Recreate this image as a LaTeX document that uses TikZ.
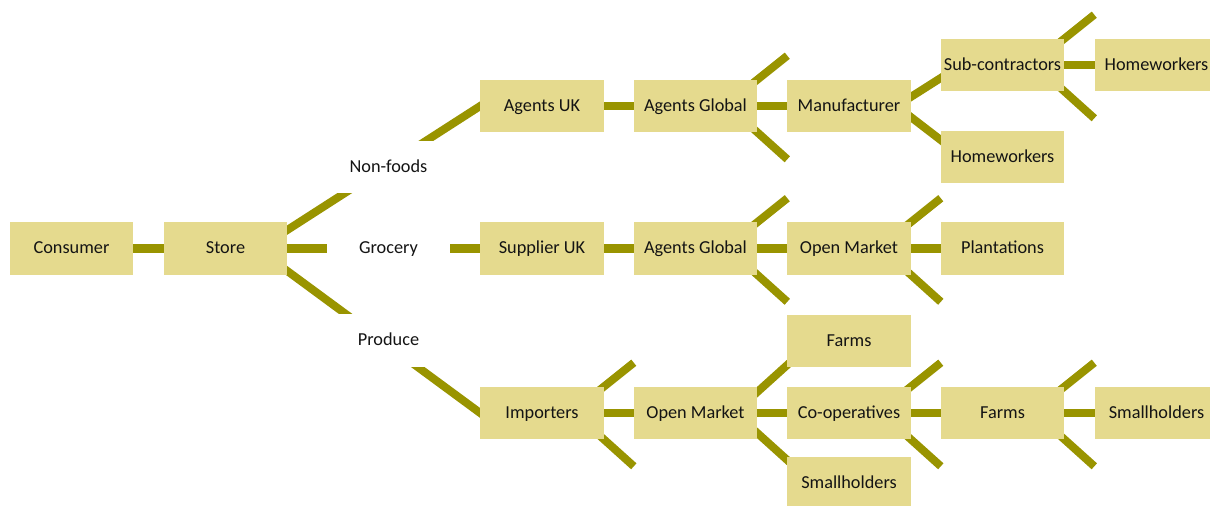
\documentclass[tikz,border=0pt]{standalone}
\usepackage{fontspec}
\setmainfont{Carlito}
\usetikzlibrary{positioning,calc,backgrounds}
\definecolor{boxsand}{HTML}{E5DA8E}
\definecolor{linkolive}{HTML}{999400}
\definecolor{inkdark}{HTML}{141414}

\begin{document}
\begin{tikzpicture}[
  x=0.025cm, y=-0.025cm,
  font=\fontsize{13}{15}\selectfont,
  supnode/.style={rectangle,fill=boxsand,text=inkdark,minimum width=3.075cm,minimum height=1.3cm,inner sep=0pt,text height=10pt,text depth=2.2pt},
  catlabel/.style={supnode,fill=white},
  link/.style={line width=5.7pt,linkolive},
  diaglink/.style={link,shorten <=-5pt,shorten >=-5pt},
]
\useasboundingbox (0,0) rectangle (1210,506);

% Consumer end (left)
\node[supnode] (consumer) at (71.5,248.5) {Consumer};
\node[supnode] (store)    at (225.5,248.5) {Store};

% Category labels sit over the links
\node[catlabel] (nonfoods) at (388.5,167)   {Non-foods};
\node[catlabel] (grocery)  at (388.5,248.5) {Grocery};
\node[catlabel] (produce)  at (388.5,340.5) {Produce};

% Non-foods chain (top)
\node[supnode] (agentsuk)  at (542,106)    {Agents UK};
\node[supnode] (agglobtop) at (695.5,106)  {Agents Global};
\node[supnode] (manuf)     at (849,106)    {Manufacturer};
\node[supnode] (subcon)    at (1002.5,65)  {Sub-contractors};
\node[supnode] (homewk)    at (1002.5,157) {Homeworkers};
\node[supnode] (homewkend) at (1156.5,65)  {Homeworkers};

% Grocery chain (middle)
\node[supnode] (supuk)     at (542,248.5)    {Supplier UK};
\node[supnode] (agglobmid) at (695.5,248.5)  {Agents Global};
\node[supnode] (openmid)   at (849,248.5)    {Open Market};
\node[supnode] (plant)     at (1002.5,248.5) {Plantations};

% Produce chain (bottom)
\node[supnode] (importers) at (542,413)    {Importers};
\node[supnode] (openlow)   at (695.5,413)  {Open Market};
\node[supnode] (farmsup)   at (849,341)    {Farms};
\node[supnode] (coop)      at (849,413)    {Co-operatives};
\node[supnode] (smallup)   at (849,483)    {Smallholders};
\node[supnode] (farmslow)  at (1002.5,413) {Farms};
\node[supnode] (smallend)  at (1156.5,413) {Smallholders};

\begin{scope}[on background layer]
% Straight links
\draw[link] (consumer) -- (store);
\draw[link] (store) -- (supuk);
\draw[link] (agentsuk) -- (agglobtop);
\draw[link] (agglobtop) -- (manuf);
\draw[link] (subcon) -- (homewkend);
\draw[link] (supuk) -- (agglobmid);
\draw[link] (agglobmid) -- (openmid);
\draw[link] (openmid) -- (plant);
\draw[link] (importers) -- (openlow);
\draw[link] (openlow) -- (coop);
\draw[link] (coop) -- (farmslow);
\draw[link] (farmslow) -- (smallend);

% Branching links
\draw[diaglink] ($(store.east)+(0,-18.5)$) -- (agentsuk.west);
\draw[diaglink] ($(store.east)+(0,22.5)$)  -- (importers.west);
\draw[diaglink] ($(manuf.east)+(0,-9)$)    -- ($(subcon.west)+(0,13)$);
\draw[diaglink] ($(manuf.east)+(0,11)$)    -- ($(homewk.west)+(0,-17)$);
\draw[diaglink] ($(openlow.east)+(0,-21)$) -- ($(farmsup.west)+(0,24)$);
\draw[diaglink] ($(openlow.east)+(0,20)$)  -- ($(smallup.west)+(0,-23)$);

% Open stubs on the right corners
\foreach \b in {agglobtop,agglobmid,openmid,subcon,importers,coop,farmslow} {
  \coordinate (\b-up) at ($(\b.north east)+(30,-24)$);
  \coordinate (\b-dn) at ($(\b.south east)+(30,27)$);
  \draw[link,shorten <=-6pt] (\b.north east) -- (\b-up);
  \draw[link,shorten <=-6pt] (\b.south east) -- (\b-dn);
}
\end{scope}
\end{tikzpicture}
\end{document}
